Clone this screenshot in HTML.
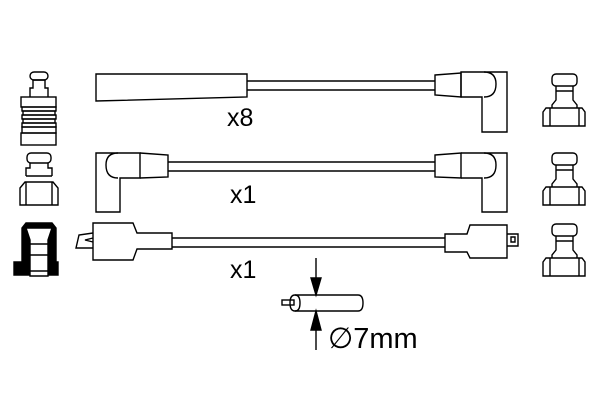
<!DOCTYPE html>
<html><head><style>html,body{margin:0;padding:0;background:#fff}</style></head><body>
<svg width="600" height="400" viewBox="0 0 600 400" xmlns="http://www.w3.org/2000/svg" fill="none" stroke="#000" stroke-width="1.4">
<!-- left plug 1 -->
<rect x="30" y="72" width="18" height="8" rx="4"/>
<path d="M33 80 h12 M33 80 v8 h-3 v9 M45 80 v8 h3 v9"/>
<rect x="21" y="97" width="35" height="10"/>
<rect x="22" y="107" width="34" height="4"/>
<rect x="23" y="111" width="32" height="4"/>
<rect x="22" y="115" width="34" height="4"/>
<rect x="23" y="119" width="32" height="4"/>
<rect x="22" y="123" width="34" height="4"/>
<rect x="22" y="127" width="34" height="6"/>
<rect x="21" y="133" width="35" height="12"/>
<!-- left plug 2 -->
<rect x="27" y="153" width="24" height="10" rx="4"/>
<path d="M30 163 v5 h-4 v8 M48 163 v5 h4 v8 M26 176 h26 M20 188 l5 -6 h28 l5 6 v17 h-38 z M26 182 v23 M52 182 v23"/>
<!-- left plug 3 black -->
<path d="M14 262 h8 v-34 l4 -5 h26 l4 5 v34 h2 v13 h-44 z" fill="#000"/>
<path d="M26 228 h26 l-4 12 v36 h-18 v-36 z" fill="#fff" stroke="#000"/>
<path d="M30 244 h18 M30 255 h18 M28 256 v17 M50 256 v17 M26 271 h26" />
<!-- right plugs -->
<g id="rp">
<rect x="552" y="74" width="25" height="12" rx="4"/>
<path d="M556 86 v5 h17 v-5 M556 91 v9 l-4 5 v3 M573 91 v9 l4 5 v3 M552 108 h25 M543 112 l3 -4 h36 l3 4 v14 h-42 z M550 108 v18 M579 108 v18"/>
</g>
<use href="#rp" y="79"/>
<use href="#rp" y="150"/>
<!-- cable 1 -->
<path d="M96 74 L247 74 L247 97 L96 101 Z"/>
<path d="M247 81 H435 M247 90 H435"/>
<path d="M435 75 l26 -2 v24 l-26 -2 z"/>
<path d="M461 72 h46 v60 h-25 v-35 h-21 z"/>
<path d="M484 72 q12 0 12 12 q0 13 -12 13"/>
<!-- cable 2 -->
<path d="M96 153 h44 v25 h-20 v34 h-24 z"/>
<path d="M118 153 q-12 0 -12 12 q0 13 12 13"/>
<path d="M140 153 l28 2 v22 l-28 1"/>
<path d="M168 162 H435 M168 171 H435"/>
<path d="M435 155 l26 -2 v25 l-26 -1 z"/>
<path d="M461 153 h46 v59 h-25 v-34 h-21"/>
<path d="M484 153 q12 0 12 12 q0 13 -12 13"/>
<!-- cable 3 -->
<path d="M93 223 h40 l4 10 h35 v16 h-35 l-4 11 h-40 z"/>
<path d="M93 233 l-14 2 l-3 13 l17 0 M93 238 l-8 2 l8 2"/>
<path d="M172 238 H445 M172 247 H445"/>
<path d="M445 234 h22 l3 -9 h37 v33 h-37 l-3 -6 h-22 z"/>
<path d="M507 234 h11 v12 h-11 M511 237 h4 v5 h-4 z"/>
<!-- dimension -->
<path d="M316 258 V278 M316 311 V350"/>
<path d="M311 278 h10 l-5 17 z M311 330 h10 l-5 -19 z" fill="#000"/>
<path d="M295 295 H358 M295 311 H358"/>
<path d="M295 295 q-5 0 -5 8 q0 8 5 8 q5 0 5 -8 q0 -8 -5 -8 M358 295 q5 0 5 8 q0 8 -5 8"/>
<rect x="282" y="300" width="12" height="5"/>
<g font-family="Liberation Sans, sans-serif" fill="#000" stroke="none">
<text x="227" y="126" font-size="25">x8</text>
<text x="230" y="203" font-size="25">x1</text>
<text x="230" y="278" font-size="25">x1</text>
<text x="328" y="348" font-size="29">∅7mm</text>
</g>
</svg>
</body></html>
